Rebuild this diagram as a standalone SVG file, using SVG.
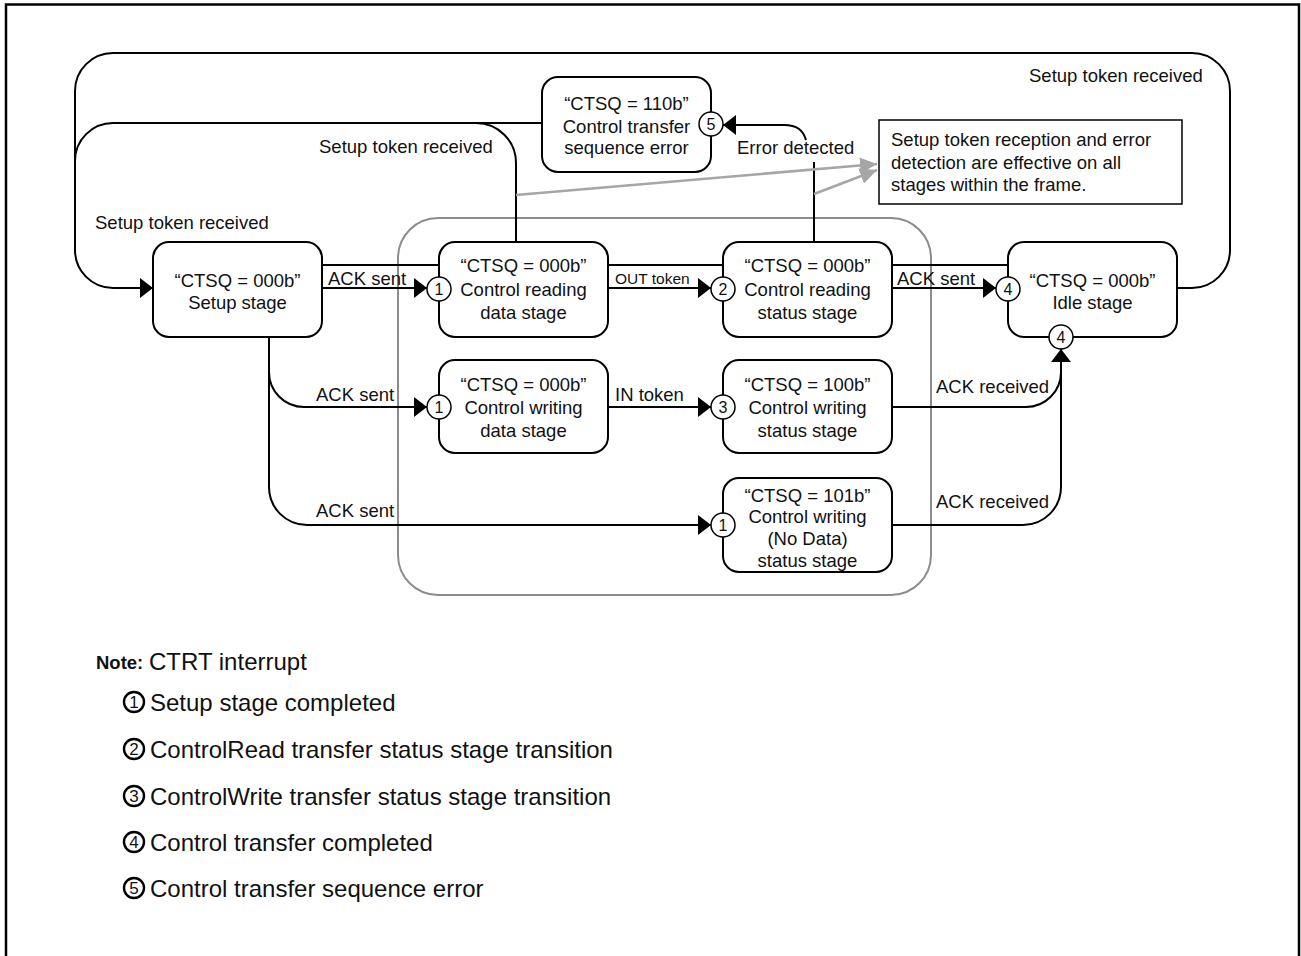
<svg xmlns="http://www.w3.org/2000/svg" width="1301" height="956" viewBox="0 0 1301 956">
<defs>
<style>
text{font-family:"Liberation Sans",Arial,sans-serif;fill:#111;}
.t{font-size:18.5px;}
.s{font-size:15.5px;}
.c{text-anchor:middle;}
.lg{font-size:24px;}
.box{fill:#fff;stroke:#000;stroke-width:2;}
.con{fill:none;stroke:#000;stroke-width:2;}
.gray{fill:none;stroke:#a6a6a6;stroke-width:2.5;}
.num circle{fill:#fff;stroke:#000;stroke-width:1.5;}
.num text{font-size:16px;text-anchor:middle;}
.lnum circle{fill:none;stroke:#000;stroke-width:2.4;}
.lnum text{font-size:17px;text-anchor:middle;}
</style>
<marker id="ar" markerUnits="userSpaceOnUse" markerWidth="14" markerHeight="20" refX="13" refY="10" orient="auto">
<path d="M0,0 L13,10 L0,20 Z" fill="#000"/>
</marker>
<marker id="ag" markerUnits="userSpaceOnUse" markerWidth="18" markerHeight="16" refX="17" refY="8" orient="auto">
<path d="M0,0 L17,8 L0,16 Z" fill="#a6a6a6"/>
</marker>
</defs>
<rect x="6" y="4.5" width="1293" height="960" fill="#fff" stroke="#000" stroke-width="2.5"/>
<rect id="frame" x="398" y="218" width="533" height="377" rx="40" fill="none" stroke="#8c8c8c" stroke-width="2"/>
<g id="connectors">
<path class="con" d="M1177 288 H1192 A38 38 0 0 0 1230 250 V91 A38 38 0 0 0 1192 53 H113 A38 38 0 0 0 75 91 V250 A38 38 0 0 0 113 288 H153" marker-end="url(#ar)"/>
<path class="con" d="M542 123 H113 A38 38 0 0 0 75 161"/>
<path class="con" d="M516 242 V163 A40 40 0 0 0 476 123"/>
<path class="con" d="M322 265 H439 M608 265 H723 M892 265 H1008"/>
<path class="con" d="M322 288 H427" marker-end="url(#ar)"/>
<path class="con" d="M608 288 H711" marker-end="url(#ar)"/>
<path class="con" d="M892 288 H996" marker-end="url(#ar)"/>
<path class="con" d="M269 337 V372 A35 35 0 0 0 304 407 H427" marker-end="url(#ar)"/>
<path class="con" d="M269 360 V487 A38 38 0 0 0 307 525 H711" marker-end="url(#ar)"/>
<path class="con" d="M608 407 H711" marker-end="url(#ar)"/>
<path class="con" d="M892 407 H1026 A35 35 0 0 0 1061 372 V349" marker-end="url(#ar)"/>
<path class="con" d="M892 525 H1023 A38 38 0 0 0 1061 487 V370"/>
<path class="con" d="M814 242 V162"/>
<path class="con" d="M806 140 C803 130 797 125 784 125 H723" marker-end="url(#ar)"/>
<path class="gray" d="M516 195 L877 164" marker-end="url(#ag)"/>
<path class="gray" d="M814 194 L877 170" marker-end="url(#ag)"/>
<text class="t" x="1029" y="81.5">Setup token received</text>
<text class="t" x="319" y="152.5">Setup token received</text>
<text class="t" x="95" y="228.5">Setup token received</text>
<text class="t" x="737" y="154">Error detected</text>
<text class="t" x="328" y="285">ACK sent</text>
<text class="s" x="615" y="284">OUT token</text>
<text class="t" x="897" y="285">ACK sent</text>
<text class="t" x="316" y="400.5">ACK sent</text>
<text class="t" x="615" y="400.5">IN token</text>
<text class="t" x="936" y="393">ACK received</text>
<text class="t" x="316" y="517">ACK sent</text>
<text class="t" x="936" y="508">ACK received</text>
</g>
<g id="note">
<rect x="879" y="120" width="303" height="84" fill="#fff" stroke="#000" stroke-width="1.5"/>
<text class="t" x="891" y="146">Setup token reception and error</text>
<text class="t" x="891" y="168.5">detection are effective on all</text>
<text class="t" x="891" y="191">stages within the frame.</text>
</g>
<g id="setup">
<rect class="box" x="153" y="242" width="169" height="95" rx="16"/>
<text class="t c" x="237.5" y="286.5">“CTSQ = 000b”</text>
<text class="t c" x="237.5" y="309">Setup stage</text>
</g>
<g id="read-data">
<rect class="box" x="439" y="242" width="169" height="95" rx="16"/>
<text class="t c" x="523.5" y="272">“CTSQ = 000b”</text>
<text class="t c" x="523.5" y="295.5">Control reading</text>
<text class="t c" x="523.5" y="318.5">data stage</text>
</g>
<g id="read-status">
<rect class="box" x="723" y="242" width="169" height="95" rx="16"/>
<text class="t c" x="807.5" y="272">“CTSQ = 000b”</text>
<text class="t c" x="807.5" y="295.5">Control reading</text>
<text class="t c" x="807.5" y="318.5">status stage</text>
</g>
<g id="idle">
<rect class="box" x="1008" y="242" width="169" height="95" rx="16"/>
<text class="t c" x="1092.5" y="286.5">“CTSQ = 000b”</text>
<text class="t c" x="1092.5" y="309">Idle stage</text>
</g>
<g id="write-data">
<rect class="box" x="439" y="360" width="169" height="93" rx="16"/>
<text class="t c" x="523.5" y="390.5">“CTSQ = 000b”</text>
<text class="t c" x="523.5" y="413.5">Control writing</text>
<text class="t c" x="523.5" y="436.5">data stage</text>
</g>
<g id="write-status">
<rect class="box" x="723" y="360" width="169" height="93" rx="16"/>
<text class="t c" x="807.5" y="390.5">“CTSQ = 100b”</text>
<text class="t c" x="807.5" y="413.5">Control writing</text>
<text class="t c" x="807.5" y="436.5">status stage</text>
</g>
<g id="nodata-status">
<rect class="box" x="723" y="478" width="169" height="94" rx="16"/>
<text class="t c" x="807.5" y="501.5">“CTSQ = 101b”</text>
<text class="t c" x="807.5" y="523">Control writing</text>
<text class="t c" x="807.5" y="545">(No Data)</text>
<text class="t c" x="807.5" y="567">status stage</text>
</g>
<g id="seq-error">
<rect class="box" x="542" y="77" width="169" height="95" rx="16"/>
<text class="t c" x="626.5" y="109.5">“CTSQ = 110b”</text>
<text class="t c" x="626.5" y="132.5">Control transfer</text>
<text class="t c" x="626.5" y="154">sequence error</text>
</g>
<g id="markers" class="num">
<circle cx="439" cy="289" r="12"/><text x="439" y="295">1</text>
<circle cx="439" cy="407" r="12"/><text x="439" y="413">1</text>
<circle cx="723" cy="525" r="12"/><text x="723" y="531">1</text>
<circle cx="723" cy="289" r="12"/><text x="723" y="295">2</text>
<circle cx="723" cy="407" r="12"/><text x="723" y="413">3</text>
<circle cx="1008" cy="289" r="12"/><text x="1008" y="295">4</text>
<circle cx="1061" cy="337" r="12"/><text x="1061" y="343">4</text>
<circle cx="711" cy="124" r="12"/><text x="711" y="130">5</text>
</g>
<g id="legend">
<text x="96" y="669" style="font-size:18.5px;font-weight:bold">Note:</text>
<text class="lg" x="149" y="669.5">CTRT interrupt</text>
<g class="lnum">
<circle cx="134" cy="702" r="10"/><text x="134" y="708">1</text>
<circle cx="134" cy="749" r="10"/><text x="134" y="755">2</text>
<circle cx="134" cy="796" r="10"/><text x="134" y="802">3</text>
<circle cx="134" cy="842" r="10"/><text x="134" y="848">4</text>
<circle cx="134" cy="888" r="10"/><text x="134" y="894">5</text>
</g>
<text class="lg" x="150" y="710.5">Setup stage completed</text>
<text class="lg" x="150" y="757.5">ControlRead transfer status stage transition</text>
<text class="lg" x="150" y="804.5">ControlWrite transfer status stage transition</text>
<text class="lg" x="150" y="850.5">Control transfer completed</text>
<text class="lg" x="150" y="896.5">Control transfer sequence error</text>
</g>
</svg>
